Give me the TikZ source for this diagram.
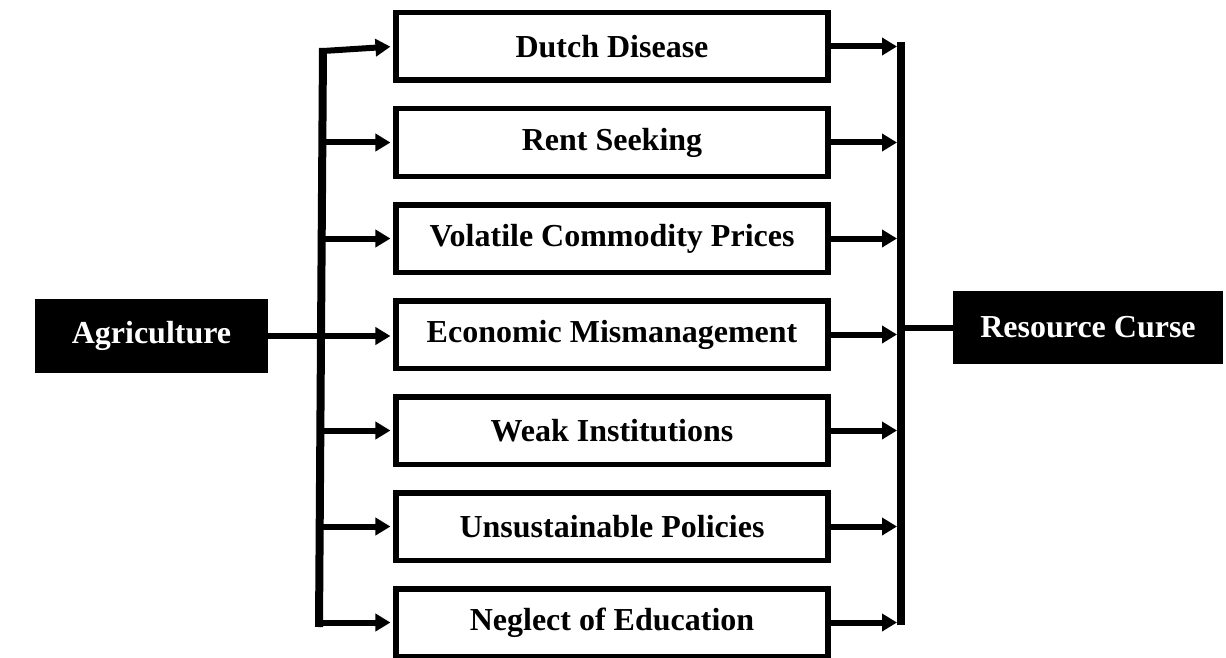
\documentclass[tikz,border=0pt]{standalone}
\usepackage{fontspec}
\setmainfont{Liberation Serif}
\usetikzlibrary{arrows.meta}

\begin{document}
\begin{tikzpicture}[x=0.5pt, y=-0.5pt, node distance={48pt},
		box/.style = {draw, line width=2.75pt, minimum width=216pt, minimum height=33.75pt, inner sep=0pt, font=\fontsize{16}{19}\selectfont\bfseries},
		dark/.style = {fill=black, text=white, inner sep=0pt, font=\fontsize{16}{19}\selectfont\bfseries},
		wire/.style = {line width=3pt},
		into/.style = {wire, ->, shorten >=1.4pt},
		bus/.style = {line width=4pt},
		>={Triangle[length=7.5pt,width=8.5pt]}]
		\useasboundingbox (0,0) rectangle (1226,658);
		\node[box] (b1) at (612,46.5) {Dutch Disease};
		\node[box] (b2) [below of=b1] {Rent Seeking};
		\node[box] (b3) [below of=b2] {Volatile Commodity Prices};
		\node[box] (b4) [below of=b3] {Economic Mismanagement};
		\node[box] (b5) [below of=b4] {Weak Institutions};
		\node[box] (b6) [below of=b5] {Unsustainable Policies};
		\node[box] (b7) [below of=b6] {Neglect of Education};
		\node[dark, minimum width=116.5pt, minimum height=37pt] (agri) at (151.5,336) {Agriculture};
		\node[dark, minimum width=135pt, minimum height=36.5pt] (curse) at (1088,327.5) {Resource Curse};
		\coordinate (ltop) at (323,48);
		\coordinate (lbot) at (319,627);
		\coordinate (rtop) at (901,42);
		\coordinate (rbot) at (901,625);
		\coordinate (rin) at (897,0);
		\draw[bus] (ltop) -- (lbot);
		\draw[bus] (rtop) -- (rbot);
		\draw[into] (ltop) ++(0,3) -- (b1.west);
		\draw[into] (b2.west -| ltop) -- (b2.west);
		\draw[into] (b3.west -| ltop) -- (b3.west);
		\draw[into] (agri.east) -- (agri.east -| b4.west);
		\draw[into] (b5.west -| ltop) -- (b5.west);
		\draw[into] (b6.west -| ltop) -- (b6.west);
		\draw[into] (b7.west -| lbot) -- (b7.west);
		\draw[wire,->] (b1.east) -- (b1.east -| rin);
		\draw[wire,->] (b2.east) -- (b2.east -| rin);
		\draw[wire,->] (b3.east) -- (b3.east -| rin);
		\draw[wire,->] (b4.east) -- (b4.east -| rin);
		\draw[wire,->] (b5.east) -- (b5.east -| rin);
		\draw[wire,->] (b6.east) -- (b6.east -| rin);
		\draw[wire,->] (b7.east) -- (b7.east -| rin);
		\draw[wire] (curse.west -| rtop) -- (curse.west);

	\end{tikzpicture}
\end{document}
